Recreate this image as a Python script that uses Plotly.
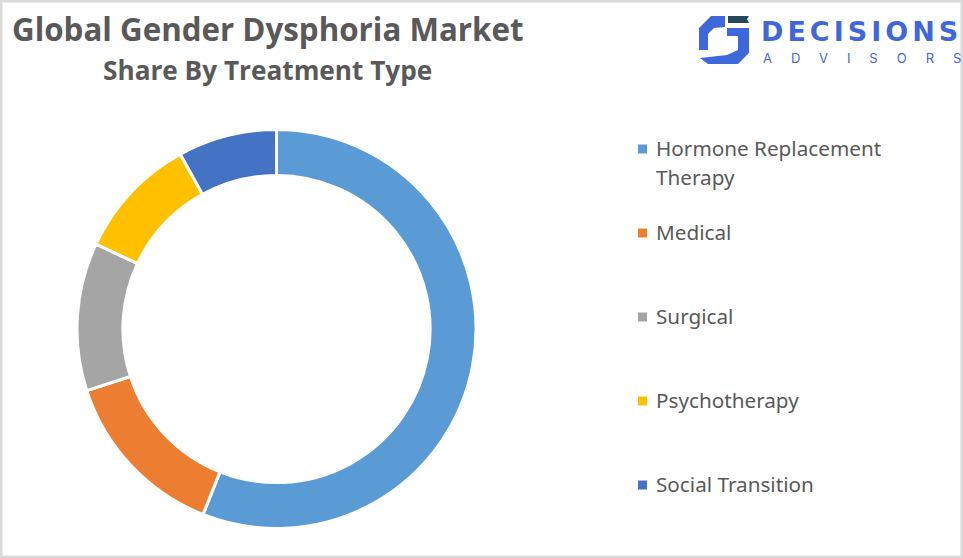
import plotly.graph_objects as go

W, H = 963, 558

treatments = ["Hormone Replacement Therapy", "Medical", "Surgical", "Psychotherapy", "Social Transition"]
legend_lines = [["Hormone Replacement", "Therapy"], ["Medical"], ["Surgical"], ["Psychotherapy"], ["Social Transition"]]
shares = [56, 14, 12, 10, 8]
colors = ["#5B9BD5", "#ED7D31", "#A5A5A5", "#FFC000", "#4472C4"]
legend_y = [149, 233, 317, 401, 485]

def px(x):
    return x / W

def py(y):
    return 1 - y / H

def note(x, y, text, size, family, color="#595959", anchor="left", weight=None):
    fig.add_annotation(x=px(x), y=py(y), text=text, showarrow=False, xref="paper", yref="paper",
                       xanchor=anchor, yanchor="middle", align=anchor,
                       font=dict(family=family, size=size, color=color, weight=weight))

def poly(points, color):
    path = "M " + " L ".join("%f,%f" % (px(a), py(b)) for a, b in points) + " Z"
    fig.add_shape(type="path", xref="paper", yref="paper", path=path, fillcolor=color, line_width=0)

cx, cy, R = 276.5, 329, 199.5

fig = go.Figure(go.Pie(
    labels=treatments, values=shares, sort=False, direction="clockwise", rotation=0,
    hole=0.77, textinfo="none", hoverinfo="label+percent", showlegend=False,
    marker=dict(colors=colors, line=dict(color="white", width=3)),
    domain=dict(x=[px(cx - R), px(cx + R)], y=[py(cy + R), py(cy - R)]),
))

# titles
note(267.5, 29, "Global Gender Dysphoria Market", 31.3, "Open Sans", anchor="center", weight=700)
note(267, 70, "Share By Treatment Type", 26.2, "Open Sans", anchor="center", weight=700)

# legend, spaced wider than the built in one allows
for lines, col, ly in zip(legend_lines, colors, legend_y):
    for i, line in enumerate(lines):
        note(654, ly - 1 + i * 29, line, 20.7, "Noto Sans")
    fig.add_shape(type="rect", xref="paper", yref="paper", x0=px(638), x1=px(647), y0=py(ly + 4.5), y1=py(ly - 4.5),
                  fillcolor=col, line_width=0)

# logo
blue = "#3F67DC"
poly([(725, 16), (711, 16), (699, 28), (699, 50), (708, 50), (708, 34), (714, 28), (725, 27)], blue)
poly([(727, 28), (749, 28), (749, 53), (738, 64), (708, 64), (700, 58), (727, 55), (738, 50), (738, 36), (727, 36)], blue)
poly([(728, 16), (749, 16), (747, 19), (749, 23), (728, 23)], "#27465C")
# last letter left out of the span so the spacing does not run past the edge
note(759, 32, '<span style="letter-spacing:4px"><b>DECISION</b></span><b>S</b>', 27, "DejaVu Sans", color=blue)
note(761, 58, '<span style="letter-spacing:19px">ADVISOR</span>S', 13, "Inter", color=blue)

# picture frame
fig.add_shape(type="rect", xref="paper", yref="paper", x0=px(1), x1=px(W - 1), y0=py(H - 1), y1=py(1),
              line=dict(color="#D9D9D9", width=3), fillcolor="rgba(0,0,0,0)")

fig.update_layout(width=W, height=H, margin=dict(l=0, r=0, t=0, b=0), paper_bgcolor="white")
fig.write_html("out.html", config=dict(displayModeBar=False), post_script="document.body.style.margin='0';")
